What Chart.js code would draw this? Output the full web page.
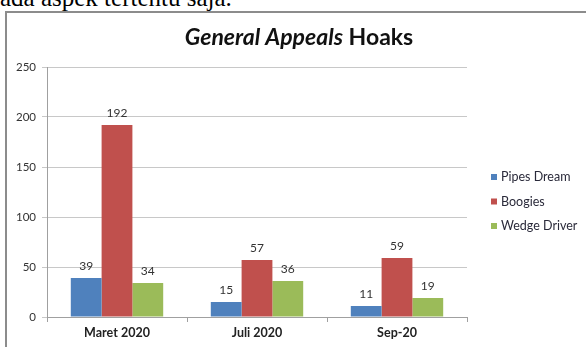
<!DOCTYPE html>
<html>
<head>
<meta charset="utf-8">
<script src="https://cdn.jsdelivr.net/npm/chart.js@4"></script>
<style>
  body { margin: 0; background: #fff; width: 586px; height: 347px; overflow: hidden; position: relative; }
  #above { position: absolute; left: 0; top: -17px; font: 25px/30px "Liberation Serif", serif; color: #000; white-space: nowrap; }
  #frame { position: absolute; left: 5px; top: 11px; width: 620px; height: 400px; border: 2px solid #8c8c8c; box-sizing: border-box; background: #fff; }
  #chart { position: absolute; left: 0; top: 0; }
</style>
</head>
<body>
<div id="above">ada aspek tertentu saja.</div>
<div id="frame"></div>
<canvas id="chart" width="586" height="347"></canvas>
<script>
// Data
var categories = ['Maret 2020', 'Juli 2020', 'Sep-20'];
var seriesNames = ['Pipes Dream', 'Boogies', 'Wedge Driver'];
var pipesDream = [39, 15, 11];
var boogies = [192, 57, 59];
var wedgeDriver = [34, 36, 19];
var yTicks = [0, 50, 100, 150, 200, 250];
var colors = ['#4f81bd', '#c0504d', '#9bbb59'];

var FONT = 'Lato, "Liberation Sans", sans-serif';

// title with italic part
var titlePlugin = {
    id: 'mixedTitle',
    afterDraw: function (chart) {
        var ctx = chart.ctx;
        var partA = 'General Appeals';
        var partB = ' Hoaks';
        ctx.save();
        ctx.fillStyle = '#111';
        ctx.textBaseline = 'alphabetic';
        ctx.font = 'italic bold 23px ' + FONT;
        var wA = ctx.measureText(partA).width;
        ctx.font = 'bold 23px ' + FONT;
        var wB = ctx.measureText(partB).width;
        var x = 299 - (wA + wB) / 2;
        ctx.font = 'italic bold 23px ' + FONT;
        ctx.fillText(partA, x, 45);
        ctx.font = 'bold 23px ' + FONT;
        ctx.fillText(partB, x + wA, 45);
        ctx.restore();
    }
};

// value labels above bars
var valueLabels = {
    id: 'valueLabels',
    afterDatasetsDraw: function (chart) {
        var ctx = chart.ctx;
        ctx.save();
        ctx.font = '12px ' + FONT;
        ctx.fillStyle = '#333';
        ctx.textAlign = 'center';
        ctx.textBaseline = 'alphabetic';
        chart.data.datasets.forEach(function (ds, i) {
            chart.getDatasetMeta(i).data.forEach(function (bar, j) {
                ctx.fillText(ds.data[j], bar.x, bar.y - 8);
            });
        });
        ctx.restore();
    }
};

// legend on the right
var sideLegend = {
    id: 'sideLegend',
    afterDraw: function (chart) {
        var ctx = chart.ctx;
        ctx.save();
        ctx.font = '12.5px ' + FONT;
        ctx.textBaseline = 'middle';
        chart.data.datasets.forEach(function (ds, i) {
            var y = 177 + i * 24.5;
            ctx.fillStyle = ds.backgroundColor;
            ctx.fillRect(491, y - 3, 6, 6);
            ctx.fillStyle = '#2a2a3a';
            ctx.fillText(ds.label, 501, y);
        });
        ctx.restore();
    }
};

var ctx = document.getElementById('chart').getContext('2d');
var chart = new Chart(ctx, {
    type: 'bar',
    data: {
        labels: categories,
        datasets: [
            { label: seriesNames[0], data: pipesDream, backgroundColor: colors[0] },
            { label: seriesNames[1], data: boogies, backgroundColor: colors[1] },
            { label: seriesNames[2], data: wedgeDriver, backgroundColor: colors[2] }
        ]
    },
    options: {
        responsive: false,
        animation: false,
        layout: { padding: { left: 0, right: 119, top: 67, bottom: 0 } },
        datasets: { bar: { barPercentage: 1, categoryPercentage: 0.66 } },
        plugins: {
            legend: { display: false },
            title: { display: false },
            tooltip: { enabled: false }
        },
        scales: {
            x: {
                offset: true,
                grid: { offset: true, drawOnChartArea: false, drawTicks: true, tickLength: 5, color: '#a0a0a0' },
                border: { display: true, color: '#a0a0a0' },
                ticks: { padding: 3, color: '#222', font: { family: FONT, size: 12.5, weight: 'bold' } },
                afterFit: function (scale) { scale.height = 30; }
            },
            y: {
                min: 0,
                max: 250,
                afterBuildTicks: function (scale) {
                    scale.ticks = yTicks.map(function (v) { return { value: v }; });
                },
                grid: { color: '#c8c8c8', tickLength: 5, drawTicks: true },
                border: { display: true, color: '#a0a0a0' },
                ticks: { padding: 6, color: '#333', font: { family: FONT, size: 11.5 } },
                afterFit: function (scale) { scale.width = 47; }
            }
        }
    },
    plugins: [titlePlugin, valueLabels, sideLegend]
});
</script>
</body>
</html>
